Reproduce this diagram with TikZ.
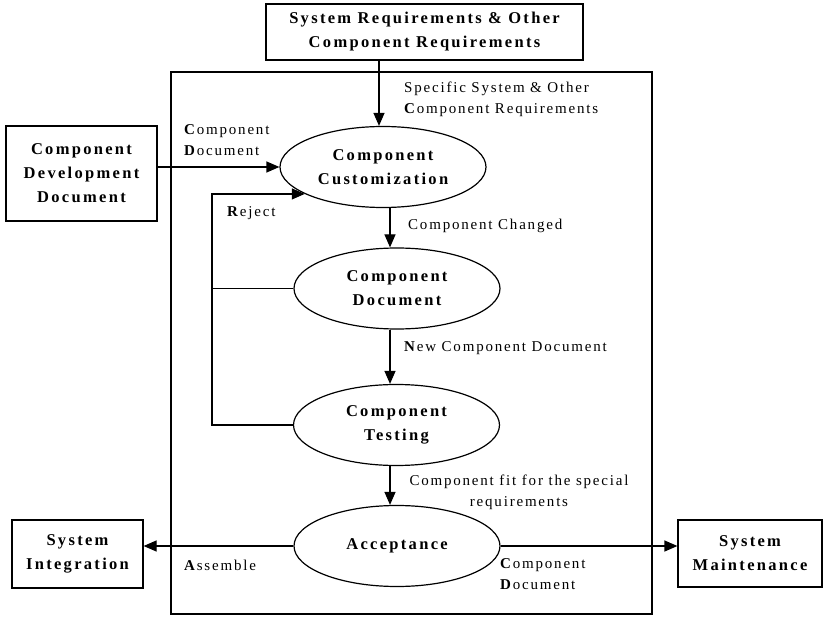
\documentclass[tikz,border=0pt]{standalone}
\usepackage{fontspec}
\setmainfont{Liberation Serif}
\newfontfamily\boxfont[LetterSpace=14]{Liberation Serif}
\newfontfamily\tagfont[LetterSpace=12]{Liberation Serif}
\usetikzlibrary{arrows.meta,shapes.geometric}

\begin{document}
\begin{tikzpicture}[x=1pt,y=-1pt,
  every node/.style={inner sep=0pt},
  wire/.style={line width=1.2pt},
  proc/.style={ellipse,draw,wire,minimum width=206pt,minimum height=81pt,align=center,
    font=\boxfont\bfseries\fontsize{16.5}{24}\selectfont},
  ebox/.style={rectangle,draw,wire,align=center,
    font=\boxfont\bfseries\fontsize{16.5}{24}\selectfont},
  tag/.style={font=\tagfont\fontsize{15}{21}\selectfont},
  arr/.style={wire,-{Triangle[length=13pt,width=11pt]}}]

\useasboundingbox (0,0) rectangle (824,617);

% process frame
\node[draw,wire,minimum width=481pt,minimum height=542pt] (frame) at (411.5,343) {};

% external boxes
\node[ebox,minimum width=317pt,minimum height=56pt] (sysreq) at (424.5,32)
  {System Requirements \& Other\\Component Requirements};
\node[ebox,minimum width=151pt,minimum height=95pt] (devdoc) at (81.5,173.5)
  {Component\\Development\\Document};
\node[ebox,minimum width=131pt,minimum height=68pt] (integ) at (77.5,554)
  {System\\Integration};
\node[ebox,minimum width=144pt,minimum height=67pt] (maint) at (750,553.5)
  {System\\Maintenance};

% process steps
\node[proc] (cust) at (383,167) {Component\\Customization};
\node[proc] (cdoc) at (397,288.5) {Component\\Document};
\node[proc] (test) at (396.5,425) {Component\\Testing};
\node[proc] (acc) at (397,546) {Acceptance};

% guide coordinates for the vertical flow and the reject loop
\coordinate (drop) at (379,0);
\coordinate (spine) at (390,0);
\coordinate (loopx) at (212,0);

% connectors
\draw[arr] (sysreq.south -| drop) -- (cust.north -| drop);
\draw[arr] (devdoc.east |- cust.west) -- (cust.west);
\draw[arr] (cust.south -| spine) -- (cdoc.north -| spine);
\draw[arr] (cdoc.south -| spine) -- (test.north -| spine);
\draw[arr] (test.south -| spine) -- (acc.north -| spine);
\draw[wire] (cdoc.west) -- (cdoc.west -| loopx);
\draw[arr] (test.west) -- (test.west -| loopx) |- (cust.199);
\draw[arr] (acc.west) -- (integ.east |- acc.west);
\draw[arr] (acc.east) -- (maint.west |- acc.east);

% connector labels
\node[tag,anchor=west,align=left] (lspec) at (404,99.5)
  {Specific System \& Other\\\textbf{C}omponent Requirements};
\node[tag,anchor=west,align=left] (lcd1) at (184,140.5)
  {\textbf{C}omponent\\\textbf{D}ocument};
\node[tag,anchor=west] (lrej) at (227,213) {\textbf{R}eject};
\node[tag,anchor=west] (lchg) at (408,226) {Component Changed};
\node[tag,anchor=west] (lnew) at (404,348) {\textbf{N}ew Component Document};
\node[tag,align=center] (lfit) at (519,492.5)
  {Component fit for the special\\requirements};
\node[tag,anchor=west] (lasm) at (184,565) {\textbf{A}ssemble};
\node[tag,anchor=west,align=left] (lcd2) at (500,574.5)
  {\textbf{C}omponent\\\textbf{D}ocument};
\end{tikzpicture}
\end{document}
